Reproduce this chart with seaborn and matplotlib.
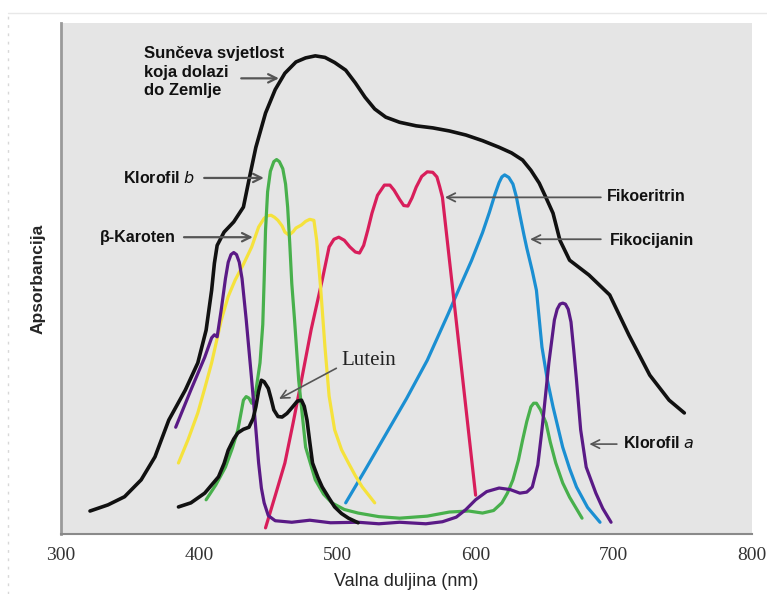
import pandas as pd
import seaborn as sns

import matplotlib
matplotlib.use("Agg")
import matplotlib.pyplot as plt
from matplotlib.lines import Line2D

# ---- data (wavelength nm, relative absorbance 0-100) ----
sun_nm = [321, 334, 346, 358, 368, 378, 390, 399, 405, 409, 411, 413, 418, 425, 432,
          436, 441, 448, 455, 462, 470, 477, 484, 491, 498, 506, 513, 520, 527, 535,
          545, 557, 569, 581, 593, 605, 617, 626, 634, 640, 646, 651, 656, 661, 668,
          682, 697, 711, 726, 740, 751]
sun_abs = [4.5, 5.7, 7.3, 10.6, 15.1, 22.3, 28.2, 33.5, 39.9, 47.7, 53.0, 56.5, 59.1,
           61.1, 64.0, 69.3, 75.7, 82.4, 87.0, 90.2, 92.4, 93.2, 93.6, 93.3, 92.3, 90.8,
           88.3, 85.5, 83.2, 81.6, 80.6, 79.9, 79.5, 78.9, 78.1, 77.0, 75.7, 74.6, 73.2,
           71.2, 68.7, 65.8, 62.8, 57.5, 53.6, 50.7, 46.8, 38.9, 31.1, 26.2, 23.7]

chl_b_nm = [405, 412, 419, 424, 428, 432, 434, 436, 438, 441, 444, 446, 447, 448, 449.5,
            451.5, 454, 456, 458, 460.5, 462.5, 464, 465.5, 467, 469, 472, 477, 484, 490,
            496, 505, 515, 530, 545, 565, 581, 595, 605, 613, 619, 623, 627, 631, 634, 637,
            640, 642, 644, 647, 651, 654, 658, 663, 668, 677]
chl_b_abs = [6.7, 9.6, 13.1, 16.8, 20.4, 26.2, 26.9, 26.6, 25.6, 28.0, 33.5, 41.0, 49.7,
             59.5, 67.0, 71.0, 72.9, 73.3, 72.9, 71.5, 68.5, 64.0, 57.0, 49.0, 41.9, 30.1,
             17.0, 10.6, 7.8, 6.1, 4.8, 4.1, 3.4, 3.1, 3.5, 4.3, 4.5, 4.1, 4.6, 6.1, 8.0,
             10.6, 14.5, 18.4, 22.0, 24.9, 25.6, 25.6, 24.3, 21.7, 18.0, 13.9, 10.0, 7.2,
             3.1]

chl_a_nm = [383, 394, 404, 409, 411, 413, 416, 419, 421, 423, 425, 427, 429, 431, 434,
            438, 441, 443, 445, 447, 450, 455, 467, 480, 495, 515, 530, 545, 564, 576,
            586, 593, 600, 608, 617, 625, 632, 637, 641, 645, 648, 653, 657, 659, 661,
            663, 665, 667, 669, 671, 673, 676, 680, 687, 692, 698]
chl_a_abs = [20.9, 28.2, 34.6, 38.4, 39.0, 38.6, 44.0, 50.0, 53.2, 54.7, 55.1, 54.7, 53.2,
             50.0, 42.0, 30.1, 20.5, 13.9, 9.0, 6.1, 3.6, 2.6, 2.3, 2.7, 2.2, 2.3, 2.0,
             2.3, 2.0, 2.4, 3.3, 4.8, 6.7, 8.3, 9.0, 8.7, 8.0, 8.2, 9.2, 13.5, 20.4, 33.5,
             41.9, 44.0, 45.0, 45.2, 45.0, 44.0, 41.5, 36.0, 30.1, 20.4, 13.1, 8.0, 5.0,
             2.3]

carot_nm = [385, 392, 399, 404, 409, 416, 421, 426, 432, 438, 443, 447, 449.5, 452, 454.5,
            457, 460, 462, 465, 468, 470, 474, 477, 480, 483, 485, 488, 491, 494, 498,
            503, 508, 513, 518, 527]
carot_abs = [13.9, 18.5, 23.7, 28.5, 33.5, 41.9, 46.5, 49.7, 52.8, 56.2, 60.1, 61.8, 62.3,
             62.4, 62.0, 61.4, 60.3, 59.1, 58.5, 59.2, 59.9, 60.5, 61.2, 61.6, 61.4, 57.5,
             47.7, 36.6, 27.0, 20.4, 16.5, 13.9, 11.4, 9.2, 6.1]

phycoer_nm = [448, 455, 462, 468, 474, 481, 489, 494, 497.5, 501, 505, 509, 513, 516, 519,
              522, 525, 529, 534, 538, 541, 545, 548, 551, 554, 557, 561, 565, 569, 572,
              574, 576, 588, 600]
phycoer_abs = [1.2, 7.5, 13.9, 21.8, 30.1, 40.0, 49.7, 56.2, 57.7, 58.1, 57.5, 56.2, 55.2,
               55.0, 56.5, 59.5, 62.8, 66.3, 68.3, 68.3, 67.3, 65.5, 64.3, 64.2, 65.8,
               67.9, 70.0, 70.9, 70.8, 69.9, 68.0, 65.9, 36.8, 7.6]

phycocy_nm = [506, 520, 535, 550, 565, 580, 588, 597, 605, 610, 614, 617, 619, 621, 624,
              627, 629.5, 632, 635, 637, 641, 644, 648, 652, 656, 663, 668, 673, 681, 690]
phycocy_abs = [6.1, 12.5, 19.5, 26.5, 34.0, 43.0, 48.0, 53.5, 59.0, 63.0, 66.5, 68.8,
               69.9, 70.3, 69.8, 68.5, 66.0, 62.5, 58.5, 56.0, 51.5, 47.7, 36.6, 30.0,
               24.9, 17.0, 12.8, 9.2, 5.2, 2.3]

lutein_nm = [385, 394, 404, 414, 418, 421, 425, 428, 432, 436, 439, 441, 443, 445, 447,
             450, 452, 454, 457, 460, 463.5, 467, 471, 474, 476, 478, 480, 482, 486, 489,
             494, 498, 503, 508, 515]
lutein_abs = [5.3, 6.1, 8.0, 11.2, 13.8, 16.4, 18.6, 19.8, 20.5, 20.9, 22.6, 24.9, 28.0,
              30.1, 29.8, 28.5, 26.5, 24.3, 23.0, 22.9, 23.6, 24.7, 26.0, 26.2, 25.0,
              22.3, 18.0, 13.9, 11.0, 9.2, 7.0, 5.3, 4.0, 3.1, 2.2]

x_ticks = [300, 400, 500, 600, 700, 800]

curves = [
    (sun_nm, sun_abs, "#111111", 2.6),
    (phycocy_nm, phycocy_abs, "#1b8fd2", 2.3),
    (phycoer_nm, phycoer_abs, "#d81e5b", 2.3),
    (carot_nm, carot_abs, "#f5e23c", 2.3),
    (chl_b_nm, chl_b_abs, "#48b04c", 2.3),
    (chl_a_nm, chl_a_abs, "#5a1a86", 2.3),
    (lutein_nm, lutein_abs, "#111111", 2.6),
]

sns.set_theme(style="white")
plt.rcParams["font.family"] = ["Liberation Sans", "DejaVu Sans"]

fig = plt.figure(figsize=(7.67, 5.94), dpi=100)
ax = fig.add_axes([0.0795, 0.101, 0.901, 0.860])
ax.set_facecolor("#e5e5e5")

for nm, ab, color, lw in curves:
    df = pd.DataFrame({"nm": nm, "abs": ab})
    sns.lineplot(data=df, x="nm", y="abs", ax=ax, color=color, linewidth=lw,
                 sort=False, estimator=None, solid_capstyle="round",
                 solid_joinstyle="round")

ax.set_xlim(300, 800)
ax.set_ylim(0, 100)
ax.set_xticks(x_ticks)
ax.set_xticklabels([str(t) for t in x_ticks], fontfamily="Liberation Serif",
                   fontsize=14, color="#333333")
ax.set_yticks([])
ax.tick_params(axis="x", direction="in", length=8, width=1.2, color="#888888", pad=9)
for side in ["top", "right"]:
    ax.spines[side].set_visible(False)
ax.spines["left"].set_color("#9a9a9a")
ax.spines["left"].set_linewidth(2)
ax.spines["bottom"].set_color("#8a8a8a")
ax.spines["bottom"].set_linewidth(1.5)

ax.set_xlabel("Valna duljina (nm)", fontsize=13,
              fontfamily=["Liberation Sans Narrow", "Liberation Sans"], labelpad=7)
ax.set_ylabel("Apsorbancija", fontsize=12.5, fontweight="bold", labelpad=11)

# ---- annotations ----
arrow = dict(arrowstyle="->,head_length=0.5,head_width=0.25", color="#555555", lw=1.6)
bold = dict(fontsize=11.5, fontweight="bold", color="#111111")

ax.text(360.2, 90.4, "Sunčeva svjetlost\nkoja dolazi\ndo Zemlje", ha="left", va="center",
        linespacing=1.3, fontsize=12, fontweight="bold", color="#111111")
ax.annotate("", xy=(459.7, 89.2), xytext=(428.4, 89.2), arrowprops=arrow)

ax.text(396.5, 69.7, "Klorofil $\\mathbf{\\mathit{b}}$", ha="right", va="center", **bold)
ax.annotate("", xy=(448.8, 69.7), xytext=(401.6, 69.7), arrowprops=arrow)

ax.text(382.7, 58.1, "β-Karoten", ha="right", va="center", **bold)
ax.annotate("", xy=(440.8, 58.1), xytext=(387.0, 58.1), arrowprops=arrow)

ax.text(694.8, 66.1, "Fikoeritrin", ha="left", va="center", **bold)
ax.annotate("", xy=(575.8, 65.9), xytext=(692.6, 65.9),
            arrowprops=dict(arrow, lw=1.3))

ax.text(697.0, 57.5, "Fikocijanin", ha="left", va="center", **bold)
ax.annotate("", xy=(637.4, 57.7), xytext=(692.6, 57.7),
            arrowprops=dict(arrow, lw=1.3))

ax.text(503.2, 33.9, "Lutein", ha="left", va="center", fontsize=15,
        fontfamily="Liberation Serif", color="#222222")
ax.annotate("", xy=(456.0, 26.2), xytext=(501.0, 32.7),
            arrowprops=dict(arrow, lw=1.2))

ax.text(706.4, 17.8, "Klorofil $\\mathbf{\\mathit{a}}$", ha="left", va="center", **bold)
ax.annotate("", xy=(680.3, 17.6), xytext=(704.2, 17.6),
            arrowprops=dict(arrow, lw=1.2))

# faint frame around the figure
fig.add_artist(Line2D([8 / 767, 1], [1 - 13 / 594, 1 - 13 / 594],
                      transform=fig.transFigure, color="#e8e8e8", lw=1))
fig.add_artist(Line2D([8 / 767, 8 / 767], [0, 1 - 13 / 594],
                      transform=fig.transFigure, color="#d8d8d8", lw=1, ls=(0, (2, 4))))

fig.savefig("out.png", dpi=100)
plt.close(fig)
